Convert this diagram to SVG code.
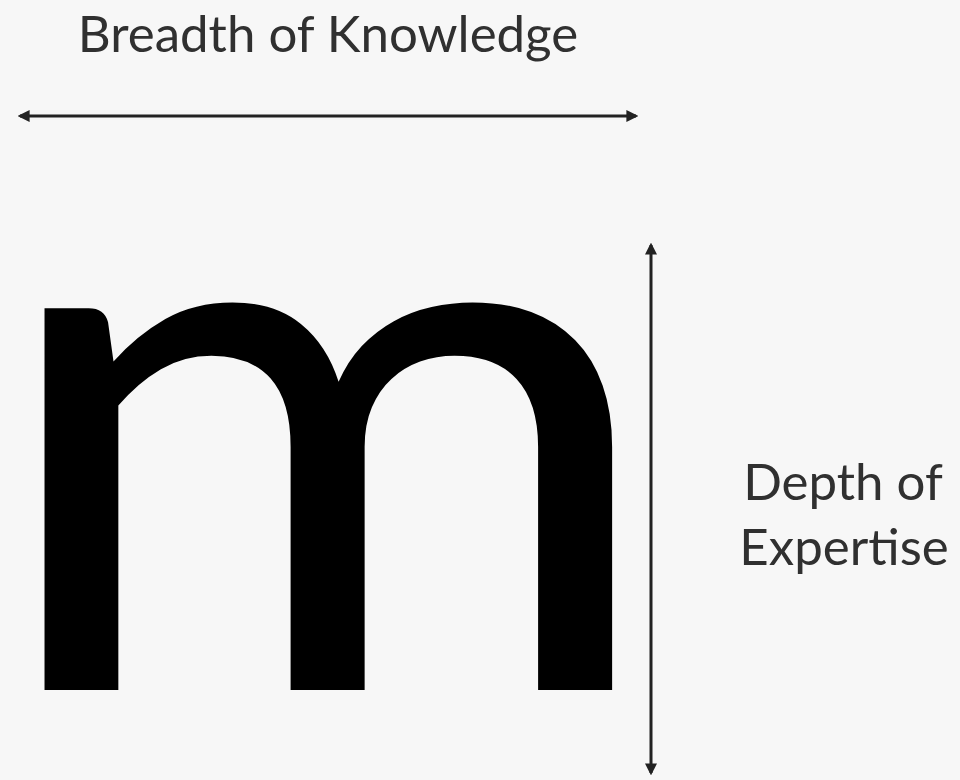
<svg xmlns="http://www.w3.org/2000/svg" width="960" height="780" viewBox="0 0 960 780">
<style>
.lbl{font-family:Lato,"Open Sans","Liberation Sans",sans-serif;font-size:51px;fill:#303030}
.ax{stroke:#222;stroke-width:3;fill:none}
</style>
<defs>
<marker id="ah" viewBox="0 0 10 10" refX="8" refY="5" markerWidth="4" markerHeight="4" orient="auto-start-reverse"><path d="M0,0 L10,5 L0,10 z" fill="#222"/></marker>
</defs>
<rect width="960" height="780" fill="#f7f7f7"/>
<g id="connectors">
<line class="ax" x1="20" y1="116" x2="636" y2="116" marker-start="url(#ah)" marker-end="url(#ah)"/>
<line class="ax" x1="651" y1="245" x2="651" y2="773" marker-start="url(#ah)" marker-end="url(#ah)"/>
</g>
<g id="breadth"><text class="lbl" x="328" y="52" text-anchor="middle">Breadth of Knowledge</text></g>
<g id="depth"><text class="lbl" x="843" y="500" text-anchor="middle">Depth of</text><text class="lbl" x="844" y="565" text-anchor="middle">Expertise</text></g>
<g id="m" transform="translate(326,690) scale(1.08,0.985)"><text x="0" y="0" text-anchor="middle" style="font-family:Lato,'Open Sans',sans-serif;font-size:765px;fill:#000">m</text></g>
</svg>
